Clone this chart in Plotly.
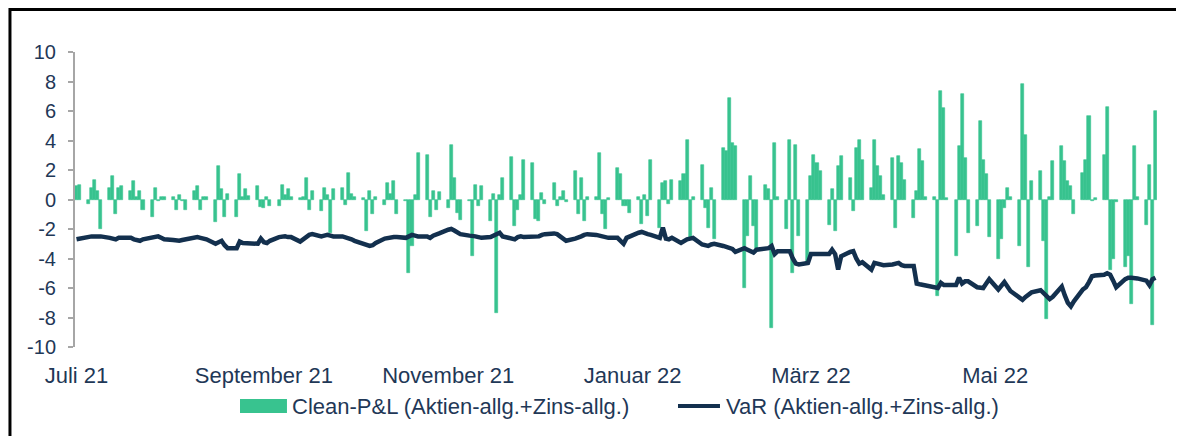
import pandas as pd
import plotly.graph_objects as go

# ---- data ----
dates = pd.bdate_range("2021-07-01", "2022-06-23")

pnl = [
    0.9, 1.0,
    -0.3, 0.8, 1.35, 0.6, -2.0,
    0.8, 1.6, -1.0, 0.8, 0.9,
    0.55, 1.25, 0.2, 0.55, -0.7,
    -1.2, 0.8, -0.1, 0.15, 0.2,
    0.2, -0.7, 0.3, -0.1, -0.7,
    0.55, 0.9, -0.7, 0.15, 0.2,
    -1.55, 2.25, 0.7, -1.2, 0.35,
    -1.2, 1.7, 0.2, 0.7, 0.25,
    0.9, -0.5, -0.55, 0.2, -0.45,
    -0.45, 1.0, 0.3, 0.7, 0.2,
    0.1, 0.2, 1.45, -0.7, 0.55,
    -0.8, 0.8, 0.3, -2.25, 0.7,
    0.8, -0.35, 1.8, 0.4, 0.2,
    0.1, -2.15, 0.6, -1.0, 0.2,
    -0.35, 1.1, 0.4, 1.25, -1.0,
    -0.1, -5.0, -3.15, 0.3, 3.15,
    3.05, -1.2, 0.55, -0.7, 0.5,
    -0.55, 3.7, 1.45, -0.9, -1.4,
    -0.1, -3.8, 1.0, -0.45, 0.9,
    -1.45, 0.35, -7.7, 0.3, 1.45,
    2.85, -1.8, -0.7, 0.3, 2.65,
    2.5, -1.3, -1.45, 0.45, -0.3,
    1.1, -0.45, 0.2, 0.55, -0.15,
    1.9, -1.0, 1.45, -1.45, 0.2,
    0.2, 3.15, -0.95, -2.0, 0.1,
    2.15, 1.7, -0.45, -0.45, -0.9,
    0.2, -1.65, 0.3, -1.1, 2.7,
    -1.9, 1.1, 1.25, -0.3, 1.35,
    1.25, 1.7, 4.05, -2.6, 0.2,
    2.35, -0.55, -1.9, 0.8, -2.7,
    3.5, 3.3, 6.9, 3.85, 3.6,
    -6.0, -2.5, 1.6, -1.8, -3.5,
    1.0, 0.7, -8.7, 3.85, 0.2,
    -2.0, 4.05, -5.0, 3.7, -2.5,
    -4.35, 1.6, 3.05, 2.5, 1.9,
    -1.7, 0.7, -2.15, 2.25, 2.95,
    1.45, -0.8, 3.5, 4.05, 2.7,
    0.8, 4.05, 2.25, 1.6, 0.3,
    2.8, -1.9, 2.95, 2.5, 1.35,
    -1.25, 0.55, 3.4, 2.6, 0.2,
    0.2, -6.55, 7.35, 6.2, 0.1,
    -3.8, 3.6, 7.15, 2.8, -2.3,
    -1.8, 5.3, 2.7, 1.7, -2.55,
    -4.0, -2.65, -0.55, 0.8, 0.2,
    -3.15, 7.8, 4.4, -4.6, 1.25,
    1.95, -2.8, -8.1, 0.2, 2.6,
    3.6, 2.6, 1.25, 0.9, -1.0,
    1.8, 2.7, 5.65, -0.1, 0.1,
    3.05, 6.3, -4.75, -4.05, -0.2,
    -4.6, -3.85, -7.1, 3.6, 0.2,
    -1.7, 2.35, -8.5, 6.0,
]

var = [
    -2.7, -2.65,
    -2.55, -2.5, -2.5, -2.5, -2.5,
    -2.6, -2.65, -2.7, -2.6, -2.6,
    -2.6, -2.7, -2.75, -2.8, -2.7,
    -2.6, -2.55, -2.5, -2.6, -2.7,
    -2.75, -2.8, -2.8, -2.75, -2.7,
    -2.55, -2.55, -2.6, -2.65, -2.7,
    -3.0, -2.9, -2.8, -3.1, -3.3,
    -3.3, -2.85, -2.95, -2.95, -3.0,
    -3.0, -2.65, -2.9, -2.95, -2.8,
    -2.55, -2.5, -2.5, -2.55, -2.55,
    -2.85, -2.7, -2.55, -2.4, -2.35,
    -2.5, -2.45, -2.4, -2.45, -2.5,
    -2.5, -2.55, -2.6, -2.7, -2.8,
    -3.05, -3.1, -3.15, -3.1, -2.95,
    -2.65, -2.6, -2.6, -2.55, -2.55,
    -2.6, -2.5, -2.4, -2.45, -2.5,
    -2.5, -2.6, -2.45, -2.35, -2.3,
    -2.05, -2.0, -2.1, -2.2, -2.35,
    -2.45, -2.45, -2.5, -2.55, -2.6,
    -2.55, -2.45, -2.35, -2.25, -2.5,
    -2.6, -2.7, -2.55, -2.5, -2.55,
    -2.55, -2.5, -2.5, -2.4, -2.35,
    -2.3, -2.35, -2.5, -2.7, -2.8,
    -2.65, -2.6, -2.5, -2.4, -2.35,
    -2.4, -2.45, -2.5, -2.55, -2.6,
    -2.6, -2.8, -3.0, -2.6, -2.5,
    -2.25, -2.2, -2.3, -2.35, -2.4,
    -2.6, -1.9, -2.65, -2.7, -2.6,
    -2.95, -2.8, -2.7, -2.65, -2.6,
    -3.05, -3.1, -3.15, -3.05, -3.0,
    -3.15, -3.2, -3.3, -3.35, -3.55,
    -3.3, -3.4, -3.5, -3.6, -3.4,
    -3.3, -3.3, -3.15, -3.7, -3.5,
    -3.5, -3.5, -4.0, -4.35, -4.4,
    -4.3, -3.7, -3.7, -3.7, -3.7,
    -3.7, -3.4, -3.7, -4.75, -3.85,
    -3.55, -3.5, -4.0, -4.35, -4.25,
    -4.75, -4.3, -4.35, -4.4, -4.45,
    -4.4, -4.35, -4.3, -4.45, -4.5,
    -4.5, -5.7, -5.75, -5.8, -5.85,
    -6.0, -6.0, -5.65, -5.8, -5.8,
    -5.8, -5.3, -5.7, -5.55, -5.55,
    -5.95, -6.0, -6.0, -5.7, -5.4,
    -6.1, -5.85, -5.6, -5.9, -6.2,
    -6.65, -6.8, -6.6, -6.4, -6.3,
    -6.15, -6.35, -6.5, -6.75, -6.6,
    -5.9, -6.5, -7.0, -7.25, -6.9,
    -6.1, -5.95, -5.6, -5.2, -5.15,
    -5.1, -5.0, -5.1, -5.5, -5.95,
    -5.4, -5.3, -5.3, -5.3, -5.35,
    -5.5, -5.8, -5.4, -5.3,
]

month_ticks = ["2021-07-01", "2021-09-01", "2021-11-01",
               "2022-01-01", "2022-03-01", "2022-05-01"]
month_labels = ["Juli 21", "September 21", "November 21",
                "Januar 22", "März 22", "Mai 22"]
y_ticks = [-10, -8, -6, -4, -2, 0, 2, 4, 6, 8, 10]
y_labels = [str(v) for v in y_ticks]

name_pnl = "Clean-P&L (Aktien-allg.+Zins-allg.)"
name_var = "VaR (Aktien-allg.+Zins-allg.)"

GREEN = "#38C38F"
NAVY = "#13304E"
TEXT = "#1F3857"
GRAY = "#A6A6A6"
FONT = "Liberation Sans, Arial, sans-serif"
x_range = ["2021-06-30 12:00", "2022-06-23 12:00"]

fig = go.Figure()
fig.add_trace(go.Bar(x=dates, y=pnl, name=name_pnl, marker_color=GREEN,
                     marker_line=dict(color=GREEN, width=0.6),
                     showlegend=False))
fig.add_trace(go.Scatter(x=dates, y=var, name=name_var, mode="lines",
                         line=dict(color=NAVY, width=4.5), showlegend=False))

# page body adds an 8px offset, so the figure is smaller than the window
fig.update_layout(
    width=1168, height=428,
    margin=dict(l=67, r=19, t=44, b=89),
    paper_bgcolor="white", plot_bgcolor="white",
    font=dict(family=FONT, color=TEXT),
    bargap=0.0,
    showlegend=False,
    xaxis=dict(type="date", range=x_range, tickvals=month_ticks,
               ticktext=month_labels, showline=False, ticks="",
               showgrid=False, zeroline=False,
               tickfont=dict(size=22, color=TEXT), ticklabelstandoff=13),
    xaxis2=dict(type="date", range=x_range, overlaying="x", anchor="free",
                position=0.5, showline=True, linecolor=GRAY, linewidth=2,
                ticks="outside", ticklen=4, tickwidth=1.5, tickcolor=GRAY,
                tickvals=month_ticks, showticklabels=False, showgrid=False,
                zeroline=False),
    yaxis=dict(range=[-10, 10], tickvals=y_ticks, ticktext=y_labels,
               showline=True, linecolor=GRAY, linewidth=2,
               ticks="outside", ticklen=5, tickwidth=1.5, tickcolor=GRAY,
               showgrid=False, zeroline=False,
               tickfont=dict(size=20, color=TEXT), ticklabelstandoff=8),
)

# outer frame: only its top and left edges fall inside the picture
fig.add_shape(type="rect", xref="paper", yref="paper",
              x0=-0.0601, x1=1.2, y0=-0.5, y1=1.144,
              line=dict(color="black", width=3), fillcolor="rgba(0,0,0,0)",
              layer="below")

# legend
fig.add_shape(type="rect", xref="paper", yref="paper",
              x0=0.1525, x1=0.1959, y0=-0.2237, y1=-0.1763,
              fillcolor=GREEN, line=dict(width=0))
fig.add_annotation(xref="paper", yref="paper", x=0.1987, y=-0.2,
                   text=name_pnl, showarrow=False, xanchor="left",
                   yanchor="middle", font=dict(size=22, color=TEXT))
fig.add_shape(type="line", xref="paper", yref="paper",
              x0=0.5573, x1=0.5961, y0=-0.2, y1=-0.2,
              line=dict(color=NAVY, width=4))
fig.add_annotation(xref="paper", yref="paper", x=0.5998, y=-0.2,
                   text=name_var, showarrow=False, xanchor="left",
                   yanchor="middle", font=dict(size=22, color=TEXT))

fig.write_html("out.html")
